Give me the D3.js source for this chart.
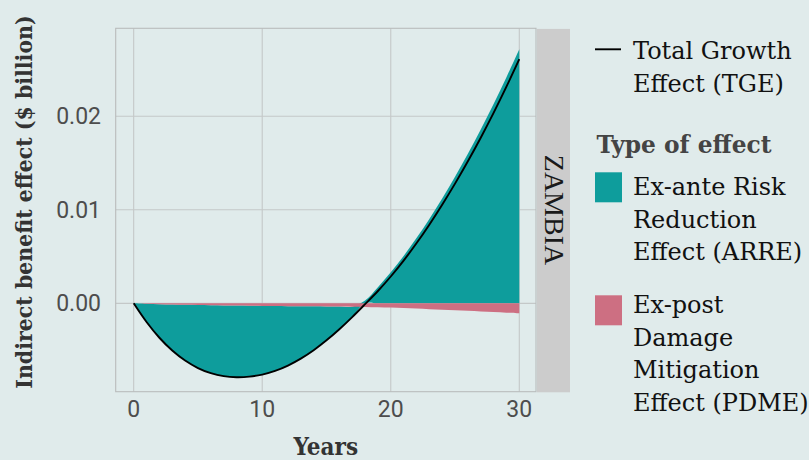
<!DOCTYPE html>
<html>
<head>
<meta charset="utf-8">
<script src="https://cdn.jsdelivr.net/npm/d3@7"></script>
<style>
  body { margin: 0; background: #e0ebeb; }
  svg { display: block; }
</style>
</head>
<body>
<svg id="chart" width="809" height="460"></svg>
<script>
// Years since start of the programme
const years = [0, 1, 2, 3, 4, 5, 6, 7, 8, 9, 10, 11, 12, 13, 14, 15,
               16, 17, 18, 19, 20, 21, 22, 23, 24, 25, 26, 27, 28, 29, 30];

// Ex-ante Risk Reduction Effect ($ billion)
const arre = [0, -0.00195, -0.00359, -0.00492, -0.00596, -0.00674, -0.00727, -0.00757,
              -0.00766, -0.00758, -0.00734, -0.00694, -0.00636, -0.00561, -0.00470, -0.00363,
              -0.00243, -0.00111, 0.00029, 0.00173, 0.00332, 0.00507, 0.00698, 0.00903,
              0.01122, 0.01354, 0.01599, 0.01858, 0.02131, 0.02417, 0.02718];

// Ex-post Damage Mitigation Effect ($ billion)
const pdme = [0, -0.00005, -0.00009, -0.00013, -0.00016, -0.00018, -0.00020, -0.00022,
              -0.00024, -0.00026, -0.00028, -0.00029, -0.00030, -0.00031, -0.00032, -0.00033,
              -0.00034, -0.00036, -0.00038, -0.00041, -0.00045, -0.00050, -0.00056, -0.00062,
              -0.00068, -0.00074, -0.00080, -0.00087, -0.00094, -0.00100, -0.00107];

// Total Growth Effect ($ billion)
const tge = [0, -0.00200, -0.00368, -0.00505, -0.00612, -0.00692, -0.00747, -0.00779,
             -0.00790, -0.00784, -0.00762, -0.00723, -0.00666, -0.00592, -0.00502, -0.00396,
             -0.00277, -0.00147, -0.00009, 0.00132, 0.00287, 0.00457, 0.00642, 0.00841,
             0.01054, 0.01280, 0.01519, 0.01771, 0.02037, 0.02317, 0.02611];

const xTicks = [0, 10, 20, 30];
const yTicks = [0.00, 0.01, 0.02];
const facetLabel = "ZAMBIA";
const xTitle = "Years";
const yTitle = "Indirect benefit effect ($ billion)";
const lineLegend = ["Total Growth", "Effect (TGE)"];
const fillLegendTitle = "Type of effect";
const fillLegend = [
  { key: "ARRE", lines: ["Ex-ante Risk", "Reduction", "Effect (ARRE)"] },
  { key: "PDME", lines: ["Ex-post", "Damage", "Mitigation", "Effect (PDME)"] }
];

const colors = { ARRE: "#0e9d9c", PDME: "#cd6f82" };
const bg = "#e0ebeb";
const gridColor = "#c4c8c8";
const titleFont = "'DejaVu Serif Condensed', 'DejaVu Serif', serif";
const legendFont = "'DejaVu Serif', serif";

const svg = d3.select("#chart");
svg.append("rect").attr("width", 809).attr("height", 460).attr("fill", bg);

// Panel geometry
const panel = { left: 115.7, right: 536, top: 28.3, bottom: 391.7 };

const x = d3.scaleLinear().domain([-1.4, 31.3]).range([panel.left, panel.right]);
const y = d3.scaleLinear().domain([-0.00945, 0.02941]).range([panel.bottom, panel.top]);

// Grid
const g = svg.append("g");
g.selectAll(".gx").data(xTicks).join("line")
  .attr("x1", d => x(d)).attr("x2", d => x(d))
  .attr("y1", panel.top).attr("y2", panel.bottom)
  .attr("stroke", gridColor).attr("stroke-width", 1.1);
g.selectAll(".gy").data(yTicks).join("line")
  .attr("y1", d => y(d)).attr("y2", d => y(d))
  .attr("x1", panel.left).attr("x2", panel.right)
  .attr("stroke", gridColor).attr("stroke-width", 1.1);

// Stacked areas: PDME first, ARRE on top, signs stacked separately
const rows = years.map((yr, i) => ({ year: yr, PDME: pdme[i], ARRE: arre[i] }));
const stack = d3.stack().keys(["PDME", "ARRE"]).offset(d3.stackOffsetDiverging);
const series = stack(rows);

const curve = d3.curveCatmullRom.alpha(0.5);
const area = d3.area()
  .x(d => x(d.data.year))
  .y0(d => y(d[0]))
  .y1(d => y(d[1]))
  .curve(curve);

const byKey = {};
series.forEach(s => byKey[s.key] = s);
g.append("path").datum(byKey.ARRE).attr("d", area).attr("fill", colors.ARRE);
g.append("path").datum(byKey.PDME).attr("d", area).attr("fill", colors.PDME);

// Total growth line
const line = d3.line()
  .x((d, i) => x(years[i]))
  .y(d => y(d))
  .curve(curve);
g.append("path").datum(tge).attr("d", line)
  .attr("fill", "none").attr("stroke", "#000").attr("stroke-width", 1.9);

// Panel border
svg.append("rect")
  .attr("x", panel.left).attr("y", panel.top)
  .attr("width", panel.right - panel.left).attr("height", panel.bottom - panel.top)
  .attr("fill", "none").attr("stroke", "#b9bcbc").attr("stroke-width", 1.1);

// Facet strip
const strip = { left: 537, right: 570 };
svg.append("rect")
  .attr("x", strip.left).attr("y", panel.top + 0.6)
  .attr("width", strip.right - strip.left).attr("height", panel.bottom - panel.top)
  .attr("fill", "#cccccc");
svg.append("text")
  .attr("transform", `translate(${(strip.left + strip.right) / 2 - 9},${(panel.top + panel.bottom) / 2}) rotate(90)`)
  .attr("text-anchor", "middle")
  .attr("font-family", "'Liberation Serif', serif")
  .attr("font-size", 28)
  .attr("fill", "#1a1a1a")
  .text(facetLabel);

// Axis tick labels
svg.selectAll(".xt").data(xTicks).join("text")
  .attr("x", d => x(d)).attr("y", 416.7)
  .attr("text-anchor", "middle")
  .attr("font-family", "Roboto, sans-serif").attr("font-size", 23)
  .attr("fill", "#4d4d4d")
  .text(d => d3.format("d")(d));
svg.selectAll(".yt").data(yTicks).join("text")
  .attr("x", 101).attr("y", d => y(d))
  .attr("dy", "0.35em")
  .attr("text-anchor", "end")
  .attr("font-family", "Roboto, sans-serif").attr("font-size", 23)
  .attr("fill", "#4d4d4d")
  .text(d => d3.format(".2f")(d));

// Axis titles
svg.append("text")
  .attr("x", (panel.left + panel.right) / 2).attr("y", 455)
  .attr("text-anchor", "middle")
  .attr("font-family", titleFont).attr("font-weight", "bold").attr("font-size", 24)
  .attr("fill", "#333")
  .text(xTitle);
svg.append("text")
  .attr("transform", `translate(31.5,202) rotate(-90)`)
  .attr("text-anchor", "middle")
  .attr("font-family", titleFont).attr("font-weight", "bold").attr("font-size", 22.8)
  .attr("fill", "#333")
  .text(yTitle);

// Legend
const legX = 595, legTextX = 633, lh = 32.5;
const lg = svg.append("g");
lg.append("line").attr("x1", legX).attr("x2", 621).attr("y1", 49.3).attr("y2", 49.3)
  .attr("stroke", "#000").attr("stroke-width", 1.9);
lg.selectAll(".ll").data(lineLegend).join("text")
  .attr("x", legTextX).attr("y", (d, i) => 59.3 + i * lh)
  .attr("font-family", legendFont).attr("font-size", 24).attr("fill", "#111")
  .text(d => d);

lg.append("text").attr("x", 596.5).attr("y", 152.7)
  .attr("font-family", legendFont).attr("font-weight", "bold").attr("font-size", 23.3)
  .attr("fill", "#444").text(fillLegendTitle);

const keyTops = [172.3, 295.3];
const baseTops = [195, 313.3];
fillLegend.forEach((item, k) => {
  lg.append("rect").attr("x", legX).attr("y", keyTops[k])
    .attr("width", 27).attr("height", 30).attr("fill", colors[item.key]);
  lg.selectAll(".fl" + k).data(item.lines).join("text")
    .attr("x", legTextX).attr("y", (d, i) => baseTops[k] + i * lh)
    .attr("font-family", legendFont).attr("font-size", 24).attr("fill", "#111")
    .text(d => d);
});
</script>
</body>
</html>
